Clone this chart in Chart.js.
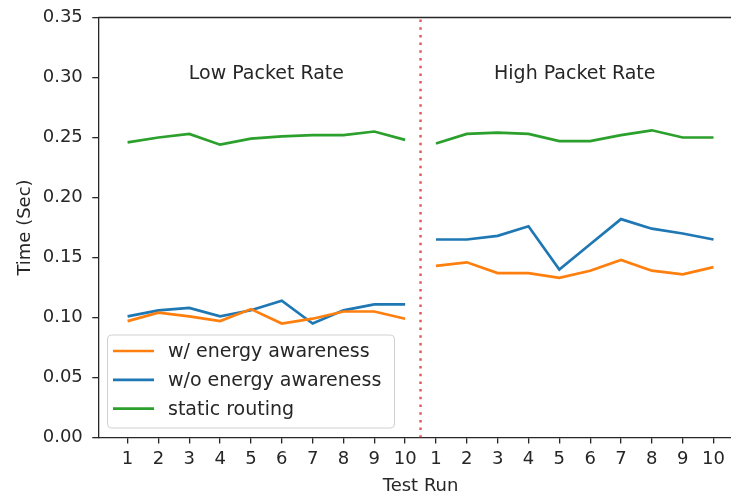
<!DOCTYPE html>
<html>
<head>
<meta charset="utf-8">
<script src="https://cdn.jsdelivr.net/npm/chart.js@4.4.1/dist/chart.umd.min.js"></script>
<style>
  html, body { margin: 0; padding: 0; overflow: hidden; background: #fff; }
  #wrap { width: 731px; height: 497px; overflow: hidden; }
</style>
</head>
<body>
<div id="wrap"><canvas id="chart" width="760" height="497"></canvas></div>
<script>
/* ── DATA ────────────────────────────────────────────────── */
// 20 runs on one axis: index 0-9 = low packet rate, 10-19 = high packet rate
const runPos    = [0,1,2,3,4,5,6,7,8,9,10,11,12,13,14,15,16,17,18,19];
const runLabels = ['1','2','3','4','5','6','7','8','9','10','1','2','3','4','5','6','7','8','9','10'];

const withEnergy = [0.097, 0.104, 0.101, 0.097, 0.107, 0.095, 0.099, 0.105, 0.105, 0.099,
                    0.143, 0.146, 0.137, 0.137, 0.133, 0.139, 0.148, 0.139, 0.136, 0.142];
const withoutEnergy = [0.101, 0.106, 0.108, 0.101, 0.106, 0.114, 0.095, 0.106, 0.111, 0.111,
                       0.165, 0.165, 0.168, 0.176, 0.140, 0.161, 0.182, 0.174, 0.170, 0.165];
const staticRouting = [0.246, 0.250, 0.253, 0.244, 0.249, 0.251, 0.252, 0.252, 0.255, 0.248,
                       0.245, 0.253, 0.254, 0.253, 0.247, 0.247, 0.252, 0.256, 0.250, 0.250];

const yTicks     = [0, 0.05, 0.10, 0.15, 0.20, 0.25, 0.30, 0.35];
const splitAt    = 9.5;
const regionText = ['Low Packet Rate', 'High Packet Rate'];
const regionX    = [4.5, 14.5];
const regionY    = 0.3;

/* ── STYLE ───────────────────────────────────────────────── */
const FONT  = "'DejaVu Sans', sans-serif";
const INK   = '#262626';
const AXIS  = '#262626';
const TICK_FONT = { family: FONT, size: 18 };

// points + a null break at the split so the two test blocks are not joined
function pts(arr) {
  const out = arr.map((v, i) => ({ x: runPos[i], y: v }));
  out.splice(10, 0, { x: splitAt, y: null });
  return out;
}

/* frame, split line, region labels, legend */
const decor = {
  id: 'decor',
  afterDatasetsDraw(chart) {
    const { ctx, chartArea: a, scales: { x, y } } = chart;
    ctx.save();

    // top + right spine
    ctx.strokeStyle = AXIS;
    ctx.lineWidth = 1.3;
    ctx.beginPath();
    ctx.moveTo(a.left, a.top);
    ctx.lineTo(a.right, a.top);
    ctx.lineTo(a.right, a.bottom);
    ctx.stroke();

    // dotted separator
    const sx = x.getPixelForValue(splitAt);
    ctx.strokeStyle = 'rgba(214,39,40,0.75)';
    ctx.lineWidth = 2.5;
    ctx.setLineDash([2.5, 5.2]);
    ctx.beginPath();
    ctx.moveTo(sx, a.top + 2);
    ctx.lineTo(sx, a.bottom);
    ctx.stroke();
    ctx.setLineDash([]);

    // region labels
    ctx.fillStyle = INK;
    ctx.font = '19px ' + FONT;
    ctx.textAlign = 'center';
    ctx.textBaseline = 'alphabetic';
    regionText.forEach((t, i) => {
      ctx.fillText(t, x.getPixelForValue(regionX[i]), y.getPixelForValue(regionY) + 1);
    });

    // legend (lower left, inside axes)
    const bx = 107.5, by = 335, bw = 287, bh = 93, r = 4;
    ctx.fillStyle = 'rgba(255,255,255,0.8)';
    ctx.strokeStyle = '#d0d0d0';
    ctx.lineWidth = 1;
    ctx.beginPath();
    ctx.roundRect(bx, by, bw, bh, r);
    ctx.fill();
    ctx.stroke();

    ctx.font = '19px ' + FONT;
    ctx.textAlign = 'left';
    ctx.textBaseline = 'middle';
    chart.data.datasets.forEach((ds, i) => {
      const ry = 351 + i * 28.8;
      ctx.strokeStyle = ds.borderColor;
      ctx.lineWidth = 2.7;
      ctx.beginPath();
      ctx.moveTo(113, ry);
      ctx.lineTo(154, ry);
      ctx.stroke();
      ctx.fillStyle = INK;
      ctx.fillText(ds.label, 168, ry + 1);
    });

    ctx.restore();
  }
};

/* ── CHART ───────────────────────────────────────────────── */
new Chart(document.getElementById('chart'), {
  type: 'line',
  data: {
    datasets: [
      { label: 'w/ energy awareness',  data: pts(withEnergy),    borderColor: '#ff7f0e' },
      { label: 'w/o energy awareness', data: pts(withoutEnergy), borderColor: '#1f77b4' },
      { label: 'static routing',       data: pts(staticRouting), borderColor: '#2ca02c' },
    ].map(d => Object.assign(d, { borderWidth: 2.7, pointRadius: 0, tension: 0, fill: false, spanGaps: false }))
  },
  options: {
    responsive: false,
    animation: false,
    events: [],
    layout: { padding: { top: 17.5, right: 17.2, left: 0, bottom: 0 } },
    plugins: { legend: { display: false }, tooltip: { enabled: false } },
    scales: {
      x: {
        type: 'linear',
        min: -0.95,
        max: 19.95,
        afterBuildTicks: s => { s.ticks = runPos.map(v => ({ value: v })); },
        afterFit: s => { s.height = 59.5; s.paddingLeft = 0; s.paddingRight = 0; },
        ticks: {
          autoSkip: false,
          maxRotation: 0,
          padding: 5.5,
          color: INK,
          font: TICK_FONT,
          callback: v => runLabels[runPos.indexOf(v)] ?? ''
        },
        grid: { drawOnChartArea: false, drawTicks: true, tickLength: 6, lineWidth: 1.3, color: AXIS },
        border: { display: true, color: AXIS, width: 1.3 },
        title: {
          display: true, text: 'Test Run', color: INK,
          font: TICK_FONT, padding: { top: 0, bottom: 0 }
        }
      },
      y: {
        min: 0,
        max: 0.35,
        afterBuildTicks: s => { s.ticks = yTicks.map(v => ({ value: v })); },
        afterFit: s => { s.width = 98.3; s.paddingTop = 0; s.paddingBottom = 0; },
        ticks: {
          padding: 9.5,
          color: INK,
          font: TICK_FONT,
          callback: v => v.toFixed(2)
        },
        grid: { drawOnChartArea: false, drawTicks: true, tickLength: 6, lineWidth: 1.3, color: AXIS },
        border: { display: true, color: AXIS, width: 1.3 },
        title: {
          display: true, text: 'Time (Sec)', color: INK,
          font: TICK_FONT, padding: { top: 14.2, bottom: 0 }
        }
      }
    }
  },
  plugins: [decor]
});
</script>
</body>
</html>
